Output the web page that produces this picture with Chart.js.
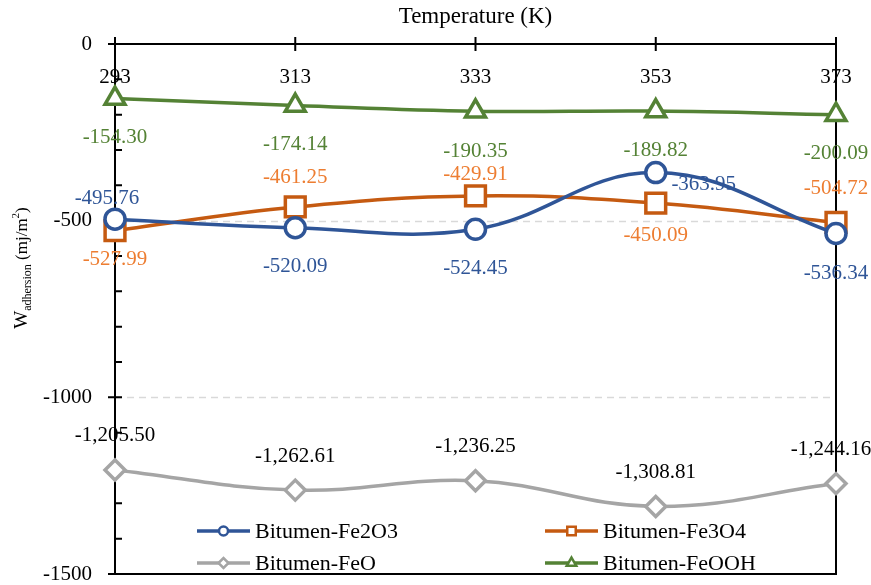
<!DOCTYPE html>
<html><head><meta charset="utf-8">
<script src="https://cdn.jsdelivr.net/npm/chart.js@4/dist/chart.umd.min.js"></script>
<style>html,body{margin:0;padding:0;background:#fff;}canvas{display:block;}</style>
</head><body>
<canvas id="c" width="871" height="585"></canvas>
<script>
// ---- data ----
const categories = ['293', '313', '333', '353', '373'];
const fe2o3 = [-495.76, -520.09, -524.45, -363.95, -536.34];
const fe3o4 = [-527.99, -461.25, -429.91, -450.09, -504.72];
const feo = [-1205.50, -1262.61, -1236.25, -1308.81, -1244.16];
const feooh = [-154.30, -174.14, -190.35, -189.82, -200.09];
const seriesNames = ['Bitumen-Fe2O3', 'Bitumen-Fe3O4', 'Bitumen-FeO', 'Bitumen-FeOOH'];
const yTickValues = [0, -500, -1000, -1500];
const yGridValues = [-500, -1000];
const yMin = -1500, yMax = 0, yMinorStep = 100;
const xTitle = 'Temperature (K)';

// ---- styles ----
const FONT = "'Liberation Serif', 'Times New Roman', serif";
const styles = [
  {line: '#2F5597', label: '#2F5597', point: 'circle', r: 10, lr: 4.5},
  {line: '#C55A11', label: '#ED7D31', point: 'rect', r: 14, lr: 6},
  {line: '#A5A5A5', label: '#000000', point: 'rectRot', r: 10, lr: 5},
  {line: '#548235', label: '#548235', point: 'triangle', r: 11.5, lr: 5.5}
];
// label offsets (px) relative to each point
const labelOffsets = [
  [[-8, -21], [0, 39], [0, 39], [48, 12], [0, 40]],
  [[0, 29], [0, -29], [0, -21], [0, 32], [0, -34]],
  [[0, -34], [0, -34], [0, -34], [0, -34], [-5, -34]],
  [[0, 39], [0, 39], [0, 40], [0, 39], [0, 39]]
];
const seriesData = [fe2o3, fe3o4, feo, feooh];

const fmt = v => v.toLocaleString('en-US', {minimumFractionDigits: 2, maximumFractionDigits: 2});

const decorPlugin = {
  id: 'decor',
  beforeDatasetsDraw(chart) {
    const {ctx, chartArea: a, scales: {x, y}} = chart;
    ctx.save();
    ctx.strokeStyle = '#D9D9D9';
    ctx.lineWidth = 1.5;
    ctx.setLineDash([7, 5]);
    ctx.beginPath();
    yGridValues.forEach(v => {
      const py = Math.round(y.getPixelForValue(v)) + 0.5;
      ctx.moveTo(a.left, py); ctx.lineTo(a.right, py);
    });
    ctx.stroke();
    ctx.setLineDash([]);
    ctx.strokeStyle = '#000';
    ctx.lineWidth = 2;
    ctx.beginPath();
    const y0 = y.getPixelForValue(0);
    const yb = y.getPixelForValue(yMin);
    ctx.moveTo(a.left - 7, y0); ctx.lineTo(a.right, y0);
    ctx.moveTo(a.left, y0); ctx.lineTo(a.left, yb);
    ctx.moveTo(a.right, y0 - 7); ctx.lineTo(a.right, yb);
    ctx.moveTo(a.left - 7, yb); ctx.lineTo(a.right + 1, yb);
    categories.forEach((c, i) => {
      const px = x.getPixelForValue(i);
      ctx.moveTo(px, y0 - 7); ctx.lineTo(px, y0 + 7);
    });
    yTickValues.forEach(v => {
      const py = y.getPixelForValue(v);
      ctx.moveTo(a.left - 7, py); ctx.lineTo(a.left + 7, py);
    });
    for (let v = yMax; v >= yMin; v -= yMinorStep) {
      const py = y.getPixelForValue(v);
      ctx.moveTo(a.left, py); ctx.lineTo(a.left + 7, py);
    }
    ctx.stroke();
    ctx.restore();
  },
  afterDatasetsDraw(chart) {
    const {ctx, chartArea: a, scales: {x, y}} = chart;
    ctx.save();
    ctx.font = '21px ' + FONT;
    ctx.fillStyle = '#000';
    ctx.textAlign = 'center';
    ctx.textBaseline = 'middle';
    categories.forEach((c, i) => {
      ctx.fillText(c, x.getPixelForValue(i), y.getPixelForValue(0) + 33);
    });
    ctx.textAlign = 'right';
    yTickValues.forEach(v => {
      ctx.fillText(String(v), a.left - 23, y.getPixelForValue(v));
    });
    ctx.textAlign = 'center';
    ctx.font = '23px ' + FONT;
    ctx.fillText(xTitle, (a.left + a.right) / 2, 17);

    ctx.font = '21px ' + FONT;
    chart.data.datasets.forEach((ds, di) => {
      const meta = chart.getDatasetMeta(di);
      ctx.fillStyle = styles[di].label;
      meta.data.forEach((p, i) => {
        const off = labelOffsets[di][i];
        ctx.fillText(fmt(ds.data[i]), p.x + off[0], p.y + off[1]);
      });
    });

    ctx.translate(27, 268);
    ctx.rotate(-Math.PI / 2);
    ctx.textAlign = 'left';
    ctx.textBaseline = 'alphabetic';
    ctx.fillStyle = '#000';
    const parts = [
      {t: 'W', f: '19px ', dy: 0},
      {t: 'adhersion', f: '12px ', dy: 4},
      {t: ' (mj/m', f: '17px ', dy: 0},
      {t: '2', f: '11px ', dy: -8},
      {t: ')', f: '17px ', dy: 0}
    ];
    let tw = 0;
    parts.forEach(p => { ctx.font = p.f + FONT; p.w = ctx.measureText(p.t).width; tw += p.w; });
    let cx = -tw / 2;
    parts.forEach(p => { ctx.font = p.f + FONT; ctx.fillText(p.t, cx, p.dy); cx += p.w; });
    ctx.restore();

    ctx.save();
    const cols = [197, 545];
    const rows = [531, 563];
    ctx.font = '22px ' + FONT;
    ctx.textBaseline = 'middle';
    ctx.textAlign = 'left';
    seriesNames.forEach((name, i) => {
      const lx = cols[i % 2], ly = rows[Math.floor(i / 2)];
      const st = styles[i];
      ctx.strokeStyle = st.line;
      ctx.lineWidth = 3.5;
      ctx.beginPath(); ctx.moveTo(lx, ly); ctx.lineTo(lx + 53, ly); ctx.stroke();
      ctx.fillStyle = '#fff';
      ctx.lineWidth = 2.5;
      Chart.helpers.drawPoint(ctx, {pointStyle: st.point, radius: st.lr, borderWidth: 2.5, rotation: 0}, lx + 26.5, ly);
      ctx.fillStyle = '#000';
      ctx.fillText(name, lx + 58, ly + 1);
    });
    ctx.restore();
  }
};

new Chart(document.getElementById('c'), {
  type: 'line',
  data: {
    labels: categories,
    datasets: seriesData.map((d, i) => ({
      label: seriesNames[i],
      data: d,
      borderColor: styles[i].line,
      backgroundColor: '#ffffff',
      borderWidth: 3.5,
      pointStyle: styles[i].point,
      pointRadius: styles[i].r,
      pointBorderWidth: 3.5,
      pointBackgroundColor: '#ffffff',
      pointBorderColor: styles[i].line,
      tension: 0.4,
      clip: false
    }))
  },
  options: {
    responsive: false,
    animation: false,
    devicePixelRatio: 1,
    layout: {autoPadding: false, padding: {top: 44, right: 35, bottom: 11, left: 115}},
    plugins: {legend: {display: false}, tooltip: {enabled: false}, title: {display: false}},
    scales: {
      x: {display: false, offset: false},
      y: {display: false, min: yMin, max: yMax}
    }
  },
  plugins: [decorPlugin]
});
</script>
</body></html>
